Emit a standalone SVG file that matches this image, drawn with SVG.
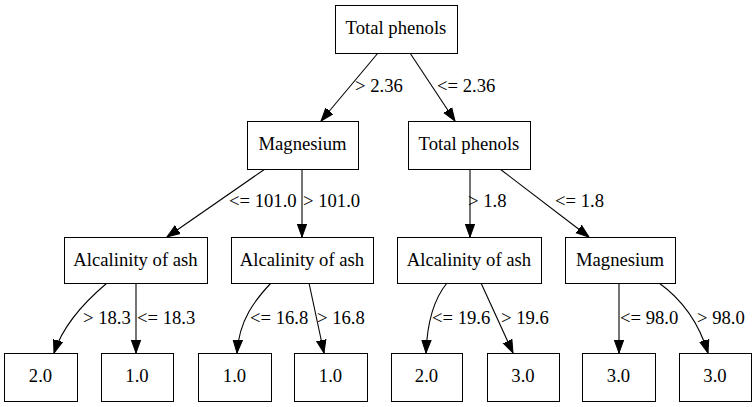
<svg xmlns="http://www.w3.org/2000/svg" width="756" height="407" viewBox="0 0 756 407">
<style>
.n rect{fill:#fff;stroke:#000;stroke-width:1}
text{font-family:"Liberation Serif","Times New Roman",serif;font-size:18.67px;fill:#000}
.n text{text-anchor:middle}
.e path{fill:none;stroke:#000;stroke-width:1.1;marker-end:url(#ah)}
</style>
<defs>
<marker id="ah" markerUnits="userSpaceOnUse" markerWidth="14" markerHeight="12" refX="13" refY="6" orient="auto" viewBox="0 0 14 12">
<path d="M0,1.3 L13,6 L0,10.7 Z" fill="#000" stroke="#000"/>
</marker>
</defs>
<rect width="756" height="407" fill="#fff"/>
<g id="connectors" class="e">
<path d="M378,53 L321,121"/>
<path d="M410,53 L455,121"/>
<path d="M265,169 L167,237"/>
<path d="M302,169 L302,237"/>
<path d="M470,169 L470,237"/>
<path d="M500,169 L589,237"/>
<path d="M107,283 C88,299 64,322 54,353"/>
<path d="M136,283 L136,353"/>
<path d="M271,283 C255,300 239,320 237,353"/>
<path d="M309,283 L324,353"/>
<path d="M447,283 C433,300 427,325 426,353"/>
<path d="M481,283 L513,353"/>
<path d="M619,283 L619,353"/>
<path d="M659,283 C680,298 698,320 708,353"/>
</g>
<g id="edge-labels">
<text x="355" y="92">&gt; 2.36</text>
<text x="437" y="92">&lt;= 2.36</text>
<text x="229" y="207">&lt;= 101.0</text>
<text x="303" y="207">&gt; 101.0</text>
<text x="468" y="207">&gt; 1.8</text>
<text x="555" y="207">&lt;= 1.8</text>
<text x="83" y="324">&gt; 18.3</text>
<text x="137" y="324">&lt;= 18.3</text>
<text x="250" y="324">&lt;= 16.8</text>
<text x="317" y="324">&gt; 16.8</text>
<text x="432" y="324">&lt;= 19.6</text>
<text x="501" y="324">&gt; 19.6</text>
<text x="620" y="324">&lt;= 98.0</text>
<text x="697" y="324">&gt; 98.0</text>
</g>
<g id="n0" class="n"><rect x="335.5" y="5.5" width="122" height="48"/><text x="396" y="34">Total phenols</text></g>
<g id="n1" class="n"><rect x="247.5" y="121.5" width="111" height="48"/><text x="302.5" y="150">Magnesium</text></g>
<g id="n2" class="n"><rect x="408.5" y="121.5" width="122" height="48"/><text x="469" y="150">Total phenols</text></g>
<g id="n3" class="n"><rect x="64.5" y="237.5" width="143" height="46"/><text x="135.5" y="266">Alcalinity of ash</text></g>
<g id="n4" class="n"><rect x="231.5" y="237.5" width="142" height="46"/><text x="302" y="266">Alcalinity of ash</text></g>
<g id="n5" class="n"><rect x="397.5" y="237.5" width="144" height="46"/><text x="469" y="266">Alcalinity of ash</text></g>
<g id="n6" class="n"><rect x="565.5" y="237.5" width="110" height="46"/><text x="620" y="266">Magnesium</text></g>
<g id="n7" class="n"><rect x="4.5" y="353.5" width="73" height="48"/><text x="40.5" y="382">2.0</text></g>
<g id="n8" class="n"><rect x="101.5" y="353.5" width="72" height="48"/><text x="137" y="382">1.0</text></g>
<g id="n9" class="n"><rect x="198.5" y="353.5" width="73" height="48"/><text x="234.5" y="382">1.0</text></g>
<g id="n10" class="n"><rect x="294.5" y="353.5" width="73" height="48"/><text x="330.5" y="382">1.0</text></g>
<g id="n11" class="n"><rect x="391.5" y="353.5" width="71" height="48"/><text x="426.5" y="382">2.0</text></g>
<g id="n12" class="n"><rect x="487.5" y="353.5" width="72" height="48"/><text x="523" y="382">3.0</text></g>
<g id="n13" class="n"><rect x="582.5" y="353.5" width="73" height="48"/><text x="618.5" y="382">3.0</text></g>
<g id="n14" class="n"><rect x="679.5" y="353.5" width="72" height="48"/><text x="715" y="382">3.0</text></g>
</svg>
